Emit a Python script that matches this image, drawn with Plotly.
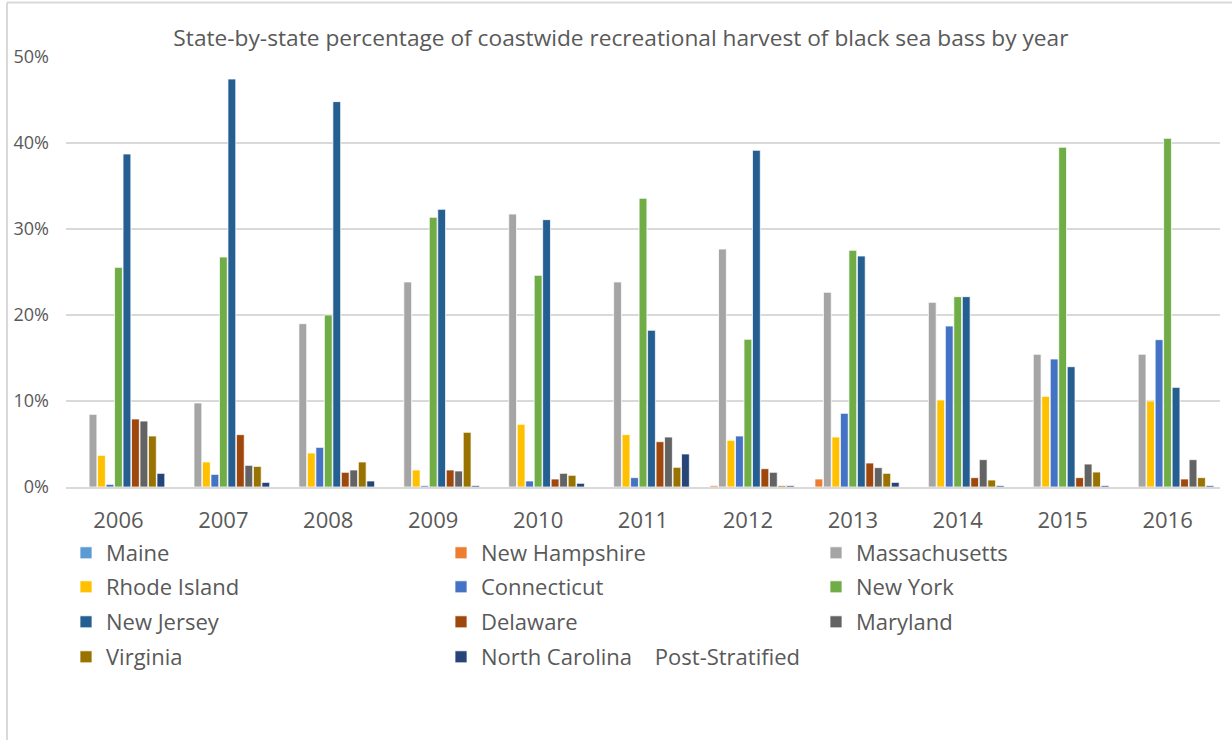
import plotly.graph_objects as go

# Recreational harvest share (%) by state and year
years = ["2006", "2007", "2008", "2009", "2010", "2011", "2012", "2013", "2014", "2015", "2016"]

states = ["Maine", "New Hampshire", "Massachusetts", "Rhode Island", "Connecticut",
          "New York", "New Jersey", "Delaware", "Maryland", "Virginia",
          "North Carolina    Post-Stratified"]

maine = [0, 0, 0, 0, 0, 0, 0, 0, 0, 0, 0]
new_hampshire = [0, 0, 0, 0, 0, 0, 0.16, 0.93, 0, 0, 0]
massachusetts = [8.45, 9.77, 18.99, 23.84, 31.74, 23.84, 27.67, 22.64, 21.47, 15.43, 15.43]
rhode_island = [3.68, 2.91, 3.95, 1.98, 7.29, 6.09, 5.43, 5.81, 10.12, 10.54, 10.0]
connecticut = [0.31, 1.47, 4.61, 0.16, 0.70, 1.09, 5.93, 8.57, 18.72, 14.88, 17.13]
new_york = [25.54, 26.74, 20.0, 31.36, 24.61, 33.57, 17.17, 27.52, 22.13, 39.5, 40.54]
new_jersey = [38.72, 47.44, 44.81, 32.29, 31.09, 18.22, 39.15, 26.86, 22.13, 13.99, 11.59]
delaware = [7.91, 6.09, 1.71, 1.98, 0.93, 5.27, 2.13, 2.79, 1.09, 1.09, 0.93]
maryland = [7.67, 2.52, 1.98, 1.86, 1.59, 5.81, 1.71, 2.25, 3.18, 2.67, 3.18]
virginia = [5.93, 2.40, 2.91, 6.36, 1.36, 2.29, 0.16, 1.59, 0.81, 1.74, 1.09]
north_carolina = [1.59, 0.54, 0.70, 0.16, 0.43, 3.84, 0.16, 0.54, 0.16, 0.16, 0.16]

series = [maine, new_hampshire, massachusetts, rhode_island, connecticut,
          new_york, new_jersey, delaware, maryland, virginia, north_carolina]

y_ticks = [0, 10, 20, 30, 40, 50]
y_tick_labels = ["0%", "10%", "20%", "30%", "40%", "50%"]

colors = ["#5B9BD5", "#ED7D31", "#A5A5A5", "#FFC000", "#4472C4",
          "#70AD47", "#255E91", "#9E480E", "#636363", "#997300", "#264478"]

TEXT = "#595959"
GRID = "#D9D9D9"
FONT = "Open Sans"

# plot-area geometry in pixels
PL, PR, PT, PB = 66, 1220, 57, 487
PW, PH = PR - PL, PB - PT


def px_x(x):
    return (x - PL) / PW


def px_y(y):
    return (PB - y) / PH


# legend laid out as three columns; each row is its own legend box
legend_ids = ["legend", "legend2", "legend3", "legend4"]
row_centers = [553, 587, 622, 657]

fig = go.Figure()
for i, (name, vals, col) in enumerate(zip(states, series, colors)):
    fig.add_trace(go.Bar(
        x=years, y=vals, name=name,
        marker=dict(color=col, line=dict(color="white", width=0.75)),
        legend=legend_ids[i // 3],
    ))

legend_style = dict(
    orientation="h", x=px_x(66), xanchor="left", yanchor="middle",
    entrywidth=330, entrywidthmode="pixels", traceorder="normal",
    font=dict(family=FONT, size=22, color=TEXT),
    bgcolor="rgba(0,0,0,0)",
)

fig.update_layout(
    width=1232, height=740,
    margin=dict(l=PL, r=1232 - PR, t=PT, b=740 - PB),
    paper_bgcolor="white", plot_bgcolor="white",
    barmode="group", bargap=0.11, bargroupgap=0.08,
    font=dict(family=FONT, color=TEXT),
    title=dict(
        text="State-by-state percentage of coastwide recreational harvest of black sea bass by year",
        x=0.504, xref="container", xanchor="center",
        y=1 - 38 / 740, yref="container", yanchor="middle",
        font=dict(family=FONT, size=22.7, color=TEXT),
    ),
    xaxis=dict(
        showgrid=False, showline=True, linecolor=GRID, linewidth=1.5,
        ticks="", tickfont=dict(size=22, color=TEXT), ticklabelstandoff=13,
    ),
    yaxis=dict(
        range=[0, 50], tickmode="array", tickvals=y_ticks, ticktext=y_tick_labels,
        showgrid=True, gridcolor=GRID, gridwidth=1.5, zeroline=False,
        showline=False, ticks="", tickfont=dict(size=18, color=TEXT),
        ticklabelstandoff=16,
    ),
    showlegend=True,
)
for lid, yc in zip(legend_ids, row_centers):
    fig.update_layout({lid: dict(legend_style, y=px_y(yc))})

# chart frame edges (top and left)
fig.add_shape(type="line", xref="paper", yref="paper",
              x0=px_x(7), x1=px_x(1232), y0=px_y(2.5), y1=px_y(2.5),
              line=dict(color=GRID, width=2))
fig.add_shape(type="line", xref="paper", yref="paper",
              x0=px_x(7), x1=px_x(7), y0=px_y(2.5), y1=px_y(745),
              line=dict(color=GRID, width=2))

fig.write_html("out.html")
